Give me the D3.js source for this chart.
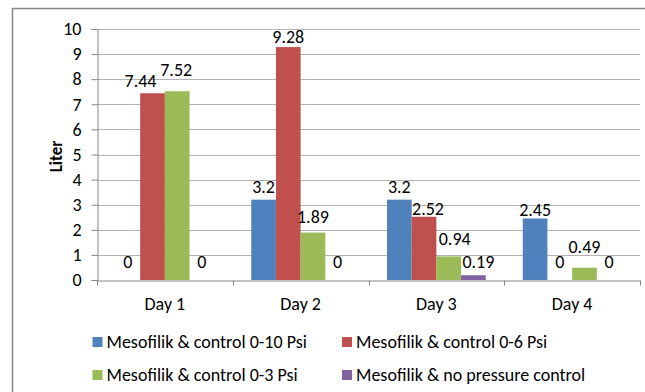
<!DOCTYPE html>
<html>
<head>
<meta charset="utf-8">
<script src="https://cdn.jsdelivr.net/npm/d3@7/dist/d3.min.js"></script>
<style>
  body { margin: 0; background: #fff; }
  svg text { font-family: Carlito, "Liberation Sans", sans-serif; fill: #000; }
</style>
</head>
<body>
<svg id="svg-area"></svg>
<script>
/* データ */
let days = ["Day 1", "Day 2", "Day 3", "Day 4"];
let seriesNames = [
  "Mesofilik & control 0-10 Psi",
  "Mesofilik & control 0-6 Psi",
  "Mesofilik & control 0-3 Psi",
  "Mesofilik & no pressure control"
];
let psi10 = [0, 3.2, 3.2, 2.45];
let psi6 = [7.44, 9.28, 2.52, 0];
let psi3 = [7.52, 1.89, 0.94, 0.49];
let noPressure = [0, 0, 0.19, 0];
let yTicks = [0, 1, 2, 3, 4, 5, 6, 7, 8, 9, 10];
let colors = ["#4F81BD", "#C0504D", "#9BBB59", "#8064A2"];

let values = [psi10, psi6, psi3, noPressure];

let width = 645;
let height = 392;
let margin = { left: 97, right: 5, top: 29, bottom: 112 };

/* ラベルの位置ずれ (Excel の重なりよけを真似る) : "系列-日" -> [dx, dy] */
let labelShift = {
  "1-0": [-12, 1], "2-0": [-1, -8],
  "1-1": [0, 3], "2-1": [0, -3],
  "1-2": [4, 5], "2-2": [6, -4], "3-2": [5, 0],
  "0-3": [0, 4], "2-3": [0, -8]
};

let svg = d3.select("#svg-area")
  .attr("width", width)
  .attr("height", height);

/* 外枠 */
svg.append("rect")
  .attr("x", 12.5).attr("y", 8.5)
  .attr("width", 700).attr("height", 500)
  .attr("fill", "#fff")
  .attr("stroke", "#868686")
  .attr("stroke-width", 1.5);

let xScale = d3.scaleBand()
  .domain(days)
  .range([margin.left, width - margin.right]);
let inner = d3.scaleBand()
  .domain(d3.range(4))
  .range([0, xScale.bandwidth()])
  .paddingOuter(0.75)
  .paddingInner(0);
let yScale = d3.scaleLinear()
  .domain([0, 10])
  .range([height - margin.bottom, margin.top]);

/* グリッド線 */
svg.append("g")
  .selectAll("line")
  .data(yTicks.slice(1))
  .join("line")
  .attr("x1", margin.left).attr("x2", width - margin.right)
  .attr("y1", d => Math.round(yScale(d)) + 0.5)
  .attr("y2", d => Math.round(yScale(d)) + 0.5)
  .attr("stroke", "#b3b3b3");

/* y 軸 */
let yAxis = svg.append("g")
  .attr("transform", "translate(" + (margin.left + 0.5) + ",0)")
  .call(d3.axisLeft(yScale).tickValues(yTicks).tickSize(6).tickPadding(10));
yAxis.selectAll("text").style("font-size", "18px");

/* x 軸 */
let xAxis = svg.append("g")
  .attr("transform", "translate(0," + (Math.round(yScale(0)) + 0.5) + ")")
  .call(d3.axisBottom(xScale).tickSize(0).tickPadding(17));
xAxis.selectAll("text").style("font-size", "18px");
xAxis.selectAll(".tick line").remove();
xAxis.selectAll("line.sep")
  .data(days.map(d => xScale(d)).concat([width - margin.right]))
  .join("line")
  .attr("class", "sep")
  .attr("x1", d => Math.round(d) + 0.5).attr("x2", d => Math.round(d) + 0.5)
  .attr("y1", 0).attr("y2", 5)
  .attr("stroke", "#868686");

svg.selectAll(".domain").attr("stroke", "#868686");
svg.selectAll(".tick line").attr("stroke", "#868686");

/* 棒 */
let groups = svg.append("g")
  .selectAll("g")
  .data(days)
  .join("g")
  .attr("transform", d => "translate(" + xScale(d) + ",0)");

groups.selectAll("rect")
  .data((d, i) => values.map((s, k) => ({ k: k, i: i, v: s[i] })))
  .join("rect")
  .attr("x", d => inner(d.k))
  .attr("width", inner.bandwidth())
  .attr("y", d => yScale(d.v))
  .attr("height", d => yScale(0) - yScale(d.v))
  .attr("fill", d => colors[d.k]);

let shiftOf = d => labelShift[d.k + "-" + d.i] || [0, 0];

groups.selectAll("text")
  .data((d, i) => values.map((s, k) => ({ k: k, i: i, v: s[i] })))
  .join("text")
  .attr("x", d => inner(d.k) + inner.bandwidth() / 2 + shiftOf(d)[0])
  .attr("y", d => yScale(d.v) - (d.v === 0 ? 12 : 7) + shiftOf(d)[1])
  .attr("text-anchor", "middle")
  .style("font-size", "18px")
  .text(d => d.v);

/* y 軸タイトル */
svg.append("text")
  .attr("transform", "translate(62," + (yScale(5) + 2) + ") rotate(-90)")
  .attr("text-anchor", "middle")
  .style("font-size", "17px")
  .style("font-weight", "bold")
  .text("Liter");

/* 凡例 */
let legend = svg.append("g")
  .selectAll("g")
  .data(seriesNames)
  .join("g")
  .attr("transform", (d, i) => "translate(" + (i % 2 === 0 ? 92.5 : 342) + "," + (i < 2 ? 342 : 375) + ")");
legend.append("rect")
  .attr("x", 0).attr("y", -5)
  .attr("width", 10).attr("height", 10)
  .attr("fill", (d, i) => colors[i]);
legend.append("text")
  .attr("x", 14).attr("y", 6)
  .style("font-size", "18px")
  .text(d => d);
</script>
</body>
</html>
